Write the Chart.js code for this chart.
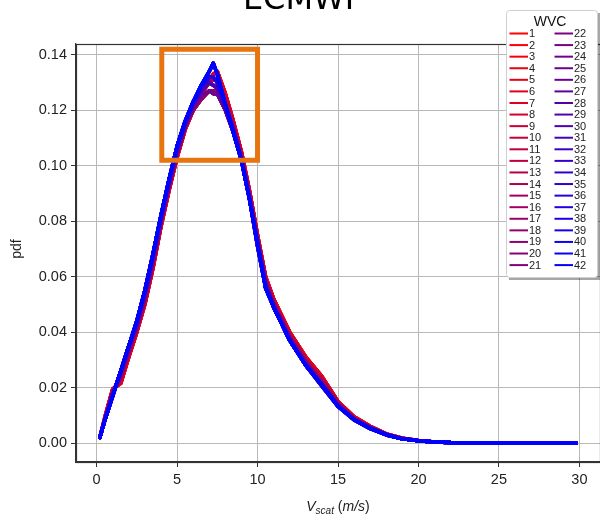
<!DOCTYPE html>
<html>
<head>
<meta charset="utf-8">
<script src="https://cdn.jsdelivr.net/npm/chart.js@4.4.1/dist/chart.umd.min.js"></script>
<style>
  html, body { margin: 0; padding: 0; background: #fff; overflow: hidden; }
</style>
</head>
<body>
<canvas id="pdf-chart" width="600" height="516"></canvas>
<script>
// wind speed bins (m/s)
const vscat = [0.2, 0.5, 1, 1.5, 2, 2.5, 3, 3.5, 4, 4.5, 5, 5.5, 6, 6.5, 7, 7.25, 7.5, 8, 8.5, 9,
               9.5, 10, 10.5, 11, 11.5, 12, 13, 14, 15, 16, 17, 18, 19, 20, 21, 22, 24, 26, 29.8];

// pdf curves, one per group of 6 WVCs
const pdfWvc1to6 = [0.002, 0.009, 0.0195, 0.0215, 0.031, 0.040, 0.050, 0.063, 0.078, 0.091,
  0.103, 0.113, 0.120, 0.126, 0.131, 0.133, 0.134, 0.126, 0.116, 0.105,
  0.091, 0.075, 0.060, 0.052, 0.046, 0.040, 0.031, 0.024, 0.015, 0.0095,
  0.006, 0.0033, 0.0017, 0.0009, 0.0004, 0.0002, 0.0001, 0, 0];
const pdfWvc7to12 = [0.002, 0.008, 0.0185, 0.023, 0.032, 0.041, 0.051, 0.064, 0.079, 0.092,
  0.104, 0.114, 0.121, 0.126, 0.130, 0.131, 0.131, 0.124, 0.115, 0.104,
  0.090, 0.074, 0.059, 0.051, 0.045, 0.039, 0.030, 0.023, 0.0145, 0.009,
  0.0058, 0.0032, 0.0016, 0.0008, 0.0004, 0.0002, 0.0001, 0, 0];
const pdfWvc13to18 = [0.002, 0.008, 0.018, 0.024, 0.033, 0.042, 0.052, 0.065, 0.080, 0.093,
  0.104, 0.114, 0.120, 0.124, 0.127, 0.127, 0.127, 0.121, 0.113, 0.103,
  0.089, 0.073, 0.058, 0.050, 0.044, 0.038, 0.029, 0.022, 0.014, 0.0088,
  0.0056, 0.0031, 0.0016, 0.0008, 0.0004, 0.0002, 0.0001, 0, 0];
const pdfWvc19to24 = [0.002, 0.008, 0.018, 0.025, 0.034, 0.042, 0.053, 0.066, 0.080, 0.093,
  0.105, 0.114, 0.121, 0.125, 0.127, 0.126, 0.126, 0.120, 0.112, 0.102,
  0.088, 0.072, 0.057, 0.050, 0.044, 0.038, 0.029, 0.021, 0.0138, 0.0086,
  0.0054, 0.003, 0.0015, 0.0008, 0.0004, 0.0002, 0.0001, 0, 0];
const pdfWvc25to30 = [0.002, 0.008, 0.017, 0.026, 0.035, 0.043, 0.054, 0.067, 0.081, 0.094,
  0.106, 0.115, 0.122, 0.127, 0.130, 0.129, 0.128, 0.121, 0.112, 0.102,
  0.088, 0.072, 0.057, 0.049, 0.043, 0.037, 0.028, 0.021, 0.0135, 0.0085,
  0.0054, 0.003, 0.0015, 0.0008, 0.0004, 0.0002, 0.0001, 0, 0];
const pdfWvc31to36 = [0.002, 0.008, 0.017, 0.026, 0.035, 0.044, 0.055, 0.068, 0.082, 0.095,
  0.107, 0.116, 0.123, 0.128, 0.132, 0.132, 0.130, 0.122, 0.113, 0.102,
  0.088, 0.071, 0.056, 0.049, 0.043, 0.037, 0.028, 0.0205, 0.0132, 0.0083,
  0.0052, 0.0029, 0.0015, 0.0008, 0.0004, 0.0002, 0.0001, 0, 0];
const pdfWvc37to42 = [0.002, 0.008, 0.017, 0.026, 0.035, 0.044, 0.055, 0.068, 0.082, 0.095,
  0.107, 0.116, 0.123, 0.129, 0.134, 0.137, 0.133, 0.122, 0.112, 0.102,
  0.088, 0.072, 0.056, 0.049, 0.043, 0.037, 0.028, 0.021, 0.0133, 0.0084,
  0.0053, 0.003, 0.0015, 0.0008, 0.0004, 0.0002, 0.0001, 0, 0];
const wvcCurves = [pdfWvc1to6, pdfWvc7to12, pdfWvc13to18, pdfWvc19to24, pdfWvc25to30, pdfWvc31to36, pdfWvc37to42];

const wvcLabels = Array.from({ length: 42 }, (_, i) => String(i + 1));
const xTicks = [0, 5, 10, 15, 20, 25, 30];
const yTicks = [0, 0.02, 0.04, 0.06, 0.08, 0.10, 0.12, 0.14];

// highlighted peak region
const boxX = [4.05, 10.0, 10.0, 4.05, 4.05];
const boxY = [0.102, 0.102, 0.142, 0.142, 0.102];

const datasets = wvcLabels.map((lab, i) => {
    const t = i / 41;
    const color = "rgb(" + Math.round(255 * (1 - t)) + ",0," + Math.round(255 * t) + ")";
    const curve = wvcCurves[Math.floor(i / 6)];
    return {
        label: lab,
        data: vscat.map((x, k) => ({ x: x, y: curve[k] })),
        borderColor: color,
        borderWidth: 3.5,
        borderJoinStyle: "round",
        borderCapStyle: "round",
        pointRadius: 0,
        tension: 0,
        order: 42 - i   // later WVCs on top, like matplotlib
    };
});
datasets.push({
    label: "box",
    data: boxX.map((x, k) => ({ x: x, y: boxY[k] })),
    borderColor: "#e8740f",
    borderWidth: 5,
    borderJoinStyle: "miter",
    borderCapStyle: "square",
    pointRadius: 0,
    order: 0
});

const decorations = {
    id: "decorations",
    afterDraw(chart) {
        const ctx = chart.ctx;
        const a = chart.chartArea;
        ctx.save();

        // axes frame
        ctx.strokeStyle = "#333";
        ctx.lineWidth = 1.2;
        ctx.strokeRect(a.left + 0.5, a.top + 0.5, a.right - a.left, a.bottom - a.top);

        // title (cut off at top)
        ctx.fillStyle = "#000";
        ctx.font = "32px 'DejaVu Sans', sans-serif";
        ctx.textAlign = "center";
        ctx.textBaseline = "alphabetic";
        ctx.fillText("ECMWF", 303, 9);

        // y title
        ctx.save();
        ctx.translate(17, 249);
        ctx.rotate(-Math.PI / 2);
        ctx.font = "14px 'Liberation Sans', sans-serif";
        ctx.fillStyle = "#222";
        ctx.textBaseline = "middle";
        ctx.fillText("pdf", 0, 0);
        ctx.restore();

        // x title: V_scat (m/s)
        const parts = [
            { t: "V", f: "italic 14px 'Liberation Sans', sans-serif", dy: 0 },
            { t: "scat", f: "italic 10px 'Liberation Sans', sans-serif", dy: 3 },
            { t: " (", f: "14px 'Liberation Sans', sans-serif", dy: 0 },
            { t: "m/s", f: "italic 14px 'Liberation Sans', sans-serif", dy: 0 },
            { t: ")", f: "14px 'Liberation Sans', sans-serif", dy: 0 }
        ];
        let w = 0;
        parts.forEach(p => { ctx.font = p.f; p.w = ctx.measureText(p.t).width; w += p.w; });
        let x = (a.left + a.right) / 2 - w / 2;
        ctx.textAlign = "left";
        ctx.fillStyle = "#222";
        parts.forEach(p => { ctx.font = p.f; ctx.fillText(p.t, x, 511 + p.dy); x += p.w; });

        // legend
        const lx = 506, ly = 10, lw = 91, lh = 267;
        ctx.fillStyle = "rgba(0,0,0,0.35)";
        ctx.fillRect(lx + 3, ly + 3, lw, lh);
        ctx.fillStyle = "#fff";
        ctx.strokeStyle = "#cfcfcf";
        ctx.lineWidth = 1;
        ctx.beginPath();
        ctx.roundRect(lx + 0.5, ly + 0.5, lw, lh, 3);
        ctx.fill();
        ctx.stroke();

        ctx.fillStyle = "#111";
        ctx.font = "14px 'Liberation Sans', sans-serif";
        ctx.textAlign = "center";
        ctx.textBaseline = "middle";
        ctx.fillText("WVC", 550, 22);

        ctx.font = "11px 'Liberation Sans', sans-serif";
        ctx.textAlign = "left";
        chart.data.datasets.slice(0, 42).forEach((ds, i) => {
            const col = i < 21 ? 0 : 1;
            const row = i % 21;
            const y = 33.5 + row * 11.58;
            const x0 = col === 0 ? 509.5 : 554.5;
            ctx.strokeStyle = ds.borderColor;
            ctx.lineWidth = 2;
            ctx.beginPath();
            ctx.moveTo(x0, y);
            ctx.lineTo(x0 + 18.5, y);
            ctx.stroke();
            ctx.fillStyle = "#222";
            ctx.fillText(ds.label, x0 + 19.5, y + 0.5);
        });
        ctx.restore();
    }
};

const ctx = document.getElementById("pdf-chart").getContext("2d");
new Chart(ctx, {
    type: "line",
    data: { datasets: datasets },
    plugins: [decorations],
    options: {
        responsive: false,
        animation: false,
        layout: { padding: { top: 44, left: 0, right: 0, bottom: 0 } },
        plugins: { legend: { display: false }, tooltip: { enabled: false }, title: { display: false } },
        scales: {
            x: {
                type: "linear",
                min: -1.28,
                max: 31.28,
                afterBuildTicks: s => { s.ticks = xTicks.map(v => ({ value: v })); },
                afterFit: s => { s.height = 54; },
                grid: { color: "#b8b8b8", tickColor: "#333", tickLength: 5, lineWidth: 1 },
                border: { color: "#333", width: 1.2 },
                ticks: {
                    color: "#222",
                    padding: 4,
                    maxRotation: 0,
                    font: { family: "'Liberation Sans', sans-serif", size: 14.5 },
                    callback: v => String(v)
                }
            },
            y: {
                type: "linear",
                min: -0.00685,
                max: 0.1439,
                afterBuildTicks: s => { s.ticks = yTicks.map(v => ({ value: v })); },
                afterFit: s => { s.width = 76; },
                grid: { color: "#b8b8b8", tickColor: "#333", tickLength: 5, lineWidth: 1 },
                border: { color: "#333", width: 1.2 },
                ticks: {
                    color: "#222",
                    padding: 4,
                    font: { family: "'Liberation Sans', sans-serif", size: 14.5 },
                    callback: v => v.toFixed(2)
                }
            }
        }
    }
});
</script>
</body>
</html>
